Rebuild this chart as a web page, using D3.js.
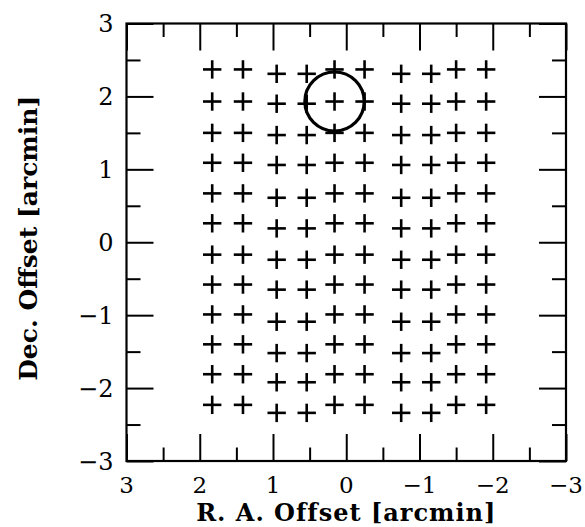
<!DOCTYPE html>
<html lang="en">
<head>
  <meta charset="utf-8">
  <title>Pointing grid</title>
  <script src="https://d3js.org/d3.v7.min.js"></script>
  <style>
    body { margin: 0; background: #fff; }
    svg text { font-family: "DejaVu Serif", serif; fill: #000; }
  </style>
</head>
<body>
<div id="chart"></div>
<script>
  // R.A. offsets of the 10 columns (arcmin); "B" columns sit a bit lower
  const raCols = [1.83, 1.41, 0.95, 0.54, 0.16, -0.25, -0.75, -1.16, -1.50, -1.91]
  const colGroup = ["A", "A", "B", "B", "A", "A", "B", "B", "A", "A"]
  // Dec. offsets of the 12 rows, for the two column groups
  const decRowsA = [2.37, 1.93, 1.50, 1.09, 0.67, 0.26, -0.17, -0.58, -0.99, -1.40, -1.81, -2.23]
  const decRowsB = [2.31, 1.90, 1.47, 1.06, 0.61, 0.19, -0.24, -0.65, -1.09, -1.52, -1.92, -2.34]
  // beam circle
  const beam = { ra: 0.16, dec: 1.93, r: 0.405 }
  const majorTicks = [-3, -2, -1, 0, 1, 2, 3]
  const minorTicks = [-2.5, -1.5, -0.5, 0.5, 1.5, 2.5]

  const margin = { top: 23.5, right: 19, bottom: 66, left: 126.5 },
    width = 585 - margin.left - margin.right,
    height = 527 - margin.top - margin.bottom;

  const svg = d3.select("#chart")
    .append("svg")
    .attr("width", 585)
    .attr("height", 527)

  const g = svg.append("g")
    .attr("transform", `translate(${margin.left}, ${margin.top})`)

  // R.A. increases to the left
  const x = d3.scaleLinear().domain([3, -3]).range([0, width])
  const y = d3.scaleLinear().domain([-3, 3]).range([height, 0])

  const fmt = d3.format("d")
  const styleAxis = sel => {
    sel.select(".domain").remove()
    sel.selectAll("line").attr("stroke", "#000").attr("stroke-width", 2)
  }

  // bottom
  g.append("g").attr("transform", `translate(0, ${height})`)
    .call(d3.axisTop(x).tickValues(majorTicks).tickSize(27).tickFormat(""))
    .call(styleAxis)
  g.append("g").attr("transform", `translate(0, ${height})`)
    .call(d3.axisTop(x).tickValues(minorTicks).tickSize(13.5).tickFormat(""))
    .call(styleAxis)
  // top
  g.append("g")
    .call(d3.axisBottom(x).tickValues(majorTicks).tickSize(27).tickFormat(""))
    .call(styleAxis)
  g.append("g")
    .call(d3.axisBottom(x).tickValues(minorTicks).tickSize(13.5).tickFormat(""))
    .call(styleAxis)
  // left
  g.append("g")
    .call(d3.axisRight(y).tickValues(majorTicks).tickSize(27).tickFormat(""))
    .call(styleAxis)
  g.append("g")
    .call(d3.axisRight(y).tickValues(minorTicks).tickSize(14).tickFormat(""))
    .call(styleAxis)
  // right
  g.append("g").attr("transform", `translate(${width}, 0)`)
    .call(d3.axisLeft(y).tickValues(majorTicks).tickSize(27).tickFormat(""))
    .call(styleAxis)
  g.append("g").attr("transform", `translate(${width}, 0)`)
    .call(d3.axisLeft(y).tickValues(minorTicks).tickSize(14).tickFormat(""))
    .call(styleAxis)

  // frame
  g.append("rect")
    .attr("width", width)
    .attr("height", height)
    .attr("fill", "none")
    .attr("stroke", "#000")
    .attr("stroke-width", 2.2)

  // tick labels
  g.selectAll(".xlab")
    .data(majorTicks)
    .enter()
    .append("text")
      .attr("x", d => x(d))
      .attr("y", height + 32)
      .attr("text-anchor", "middle")
      .style("font-size", "23px")
      .text(d => fmt(d))

  g.selectAll(".ylab")
    .data(majorTicks)
    .enter()
    .append("text")
      .attr("x", -13)
      .attr("y", d => y(d) + 8.5)
      .attr("text-anchor", "end")
      .style("font-size", "24px")
      .text(d => fmt(d))

  // axis titles
  g.append("text")
    .attr("x", x(0))
    .attr("y", height + 59.8)
    .attr("text-anchor", "middle")
    .style("font-size", "24px")
    .style("font-weight", "bold")
    .style("letter-spacing", "1px")
    .text("R. A. Offset [arcmin]")

  g.append("text")
    .attr("transform", `translate(${-89.5}, ${height / 2 - 4}) rotate(-90)`)
    .attr("text-anchor", "middle")
    .style("font-size", "25px")
    .style("font-weight", "bold")
    .text("Dec. Offset [arcmin]")

  // grid of pointings
  const points = []
  raCols.forEach((ra, i) => {
    const rows = colGroup[i] === "A" ? decRowsA : decRowsB
    rows.forEach(dec => points.push({ ra: ra, dec: dec }))
  })

  const arm = 9.2
  const crosses = g.append("g")
    .attr("stroke", "#000")
    .attr("stroke-width", 2.6)
  crosses.selectAll(".h")
    .data(points)
    .enter()
    .append("line")
      .attr("x1", d => x(d.ra) - arm)
      .attr("x2", d => x(d.ra) + arm)
      .attr("y1", d => y(d.dec))
      .attr("y2", d => y(d.dec))
  crosses.selectAll(".v")
    .data(points)
    .enter()
    .append("line")
      .attr("x1", d => x(d.ra))
      .attr("x2", d => x(d.ra))
      .attr("y1", d => y(d.dec) - arm)
      .attr("y2", d => y(d.dec) + arm)

  // beam
  g.append("ellipse")
    .attr("cx", x(beam.ra))
    .attr("cy", y(beam.dec))
    .attr("rx", x(0) - x(beam.r))
    .attr("ry", y(0) - y(beam.r))
    .attr("fill", "none")
    .attr("stroke", "#000")
    .attr("stroke-width", 3.2)
</script>
</body>
</html>
